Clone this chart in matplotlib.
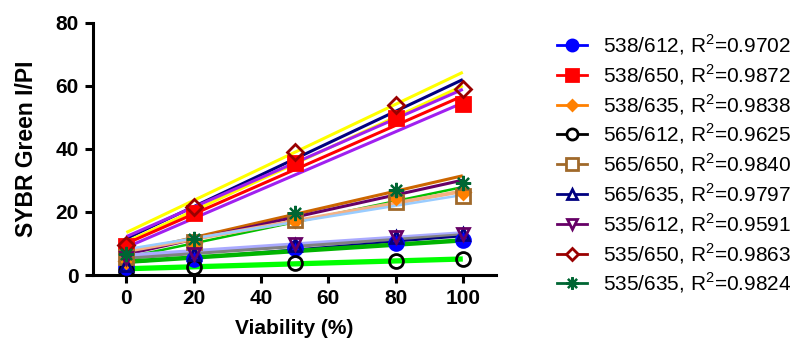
import matplotlib
matplotlib.use("Agg")
import matplotlib.pyplot as plt
from matplotlib.lines import Line2D

plt.rcParams['font.family'] = ['Liberation Sans', 'DejaVu Sans']
plt.rcParams['mathtext.fontset'] = 'custom'
plt.rcParams['mathtext.rm'] = 'Liberation Sans'

# viability levels
viability = [0, 20, 50, 80, 100]

# measured ratios per filter pair
s538_612 = [2.4, 5.1, 8.5, 10.1, 11.0]
s538_650 = [9.2, 19.7, 35.5, 49.8, 54.2]
s538_635 = [4.6, 10.3, 17.6, 24.7, 26.4]
s565_612 = [1.4, 2.6, 3.8, 4.6, 5.0]
s565_650 = [5.8, 10.6, 17.4, 23.2, 25.1]
s565_635 = [3.3, 6.6, 9.4, 12.1, 13.0]
s535_612 = [5.4, 6.8, 10.0, 12.0, 13.0]
s535_650 = [9.6, 21.5, 39.1, 53.9, 58.9]
s535_635 = [6.8, 11.4, 19.7, 27.0, 29.2]

labels = ['538/612', '538/650', '538/635', '565/612', '565/650',
          '565/635', '535/612', '535/650', '535/635']
r2 = ['0.9702', '0.9872', '0.9838', '0.9625', '0.9840',
      '0.9797', '0.9591', '0.9863', '0.9824']

# regression lines / bands (value at 0 and at 100)
fit_y0 = [13.5, 11.6, 10.5, 12.2, 10.0, 8.8,
          7.0, 6.6, 5.6, 7.6, 8.2,
          6.2, 5.3, 3.9, 4.2, 2.0]
fit_y100 = [64.3, 62.0, 60.0, 58.9, 56.8, 54.6,
            31.5, 30.1, 27.9, 26.6, 25.4,
            13.3, 12.8, 12.3, 11.0, 5.1]
fit_colors = ['#ffff00', '#000080', '#ffff00', '#a020f0', '#ff0000', '#a020f0',
              '#cc6600', '#660066', '#00c000', '#f4b183', '#99ccff',
              '#aaaaff', '#808080', '#000080', '#00b400', '#00ff00']
fit_widths = [2.2, 2.2, 2.2, 2.2, 2.2, 2.2,
              2.2, 2.2, 1.8, 2.8, 1.8,
              2.8, 2.2, 1.5, 3.2, 3.8]

series = [s538_612, s538_650, s538_635, s565_612, s565_650,
          s565_635, s535_612, s535_650, s535_635]
colors = ['#0000ff', '#ff0000', '#ff8000', '#000000', '#a0692a',
          '#000080', '#660066', '#990000', '#006633']
markers = ['o', 's', 'D', 'o', 's', '^', 'v', 'D', (8, 2, 0)]
filled = [True, True, True, False, False, False, False, False, True]
msizes = [10, 10, 7.5, 10, 10, 9, 9, 8, 11]

fig = plt.figure(figsize=(8.02, 3.4), dpi=100)
ax = fig.add_axes([0.1156, 0.191, 0.5034, 0.742])

for a, b, c, w in zip(fit_y0, fit_y100, fit_colors, fit_widths):
    ax.plot([0, 100], [a, b], color=c, lw=w, solid_capstyle='butt', zorder=2)

handles = []
for ys, c, m, f, ms, lab, r in zip(series, colors, markers, filled, msizes, labels, r2):
    face = c if f else 'none'
    mew = 1.6 if isinstance(m, tuple) else 2
    ax.plot(viability, ys, linestyle='none', marker=m, markersize=ms,
            markerfacecolor=face, markeredgecolor=c, markeredgewidth=mew, zorder=3)
    handles.append(Line2D([0], [0], color=c, lw=2, marker=m, markersize=ms - 2,
                          markerfacecolor=face if f else 'white',
                          markeredgecolor=c, markeredgewidth=mew,
                          label=f'{lab}, R$^{{2}}$={r}'))

ax.set_xlim(-10, 110)
ax.set_ylim(0, 80)
ax.set_xticks([0, 20, 40, 60, 80, 100])
ax.set_yticks([0, 20, 40, 60, 80])
for sp in ['top', 'right']:
    ax.spines[sp].set_visible(False)
for sp in ['left', 'bottom']:
    ax.spines[sp].set_linewidth(2.2)
ax.tick_params(width=2.2, length=6, labelsize=15, pad=4)
for t in ax.get_xticklabels() + ax.get_yticklabels():
    t.set_fontweight('bold')

ax.set_xlabel('Viability (%)', fontsize=15, fontweight='bold', labelpad=8)
ax.set_ylabel('SYBR Green I/PI', fontsize=16.5, fontweight='bold', labelpad=13)

fig.legend(handles=handles, loc='upper left', bbox_to_anchor=(0.6945, 0.905),
           frameon=False, fontsize=15, handlelength=1.45, labelspacing=0.25,
           handletextpad=0.75, borderaxespad=0, borderpad=0)

fig.savefig('out.png', dpi=100)
